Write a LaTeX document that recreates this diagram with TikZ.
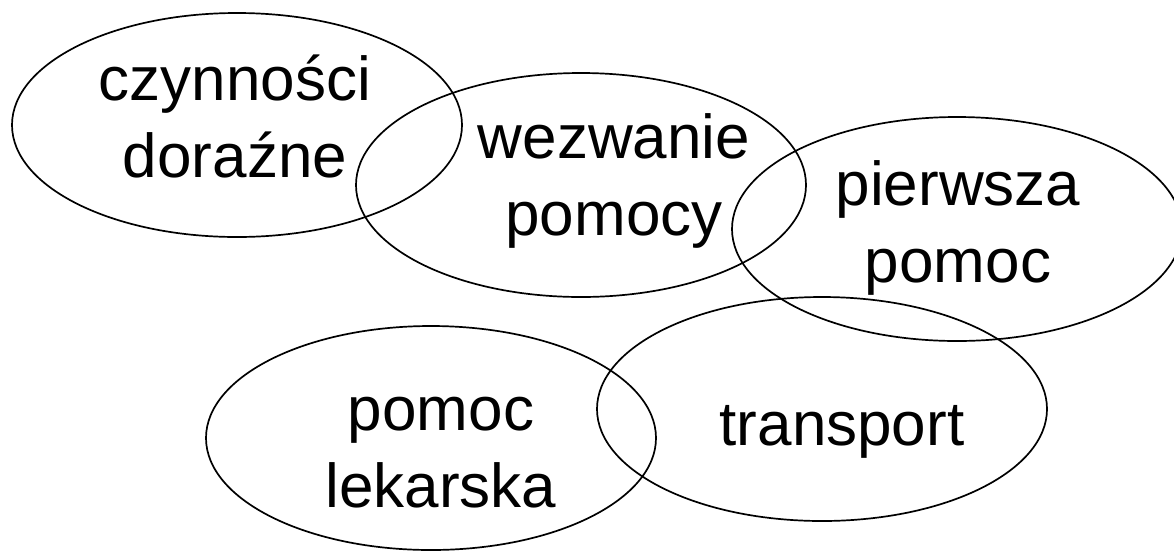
\documentclass[tikz,border=0pt]{standalone}
\usepackage{fontspec}
\setmainfont{Liberation Sans}
\usetikzlibrary{shapes.geometric}
\begin{document}
\begin{tikzpicture}[x=1pt,y=-1pt,
  blob/.style={draw, line width=1.7pt, ellipse, minimum width=450pt, minimum height=224pt, inner sep=0pt},
  lbl/.style={align=center, inner sep=0pt, anchor=base, font=\fontsize{62}{77}\selectfont}]
\useasboundingbox (0,0) rectangle (1174,550);
\node[blob] (e1) at (237,125) {};
\node[blob] (e2) at (581,185) {};
\node[blob] (e3) at (957,229) {};
\node[blob] (e4) at (431,438) {};
\node[blob] (e5) at (822,409) {};
\node[lbl] (t1) at (235,177) {czynności\\doraźne};
\node[lbl] (t2) at (614,235) {wezwanie\\pomocy};
\node[lbl] (t3) at (958,282) {pierwsza\\pomoc};
\node[lbl] (t4) at (441,507) {pomoc\\lekarska};
\node[lbl] (t5) at (842,445) {transport};
\end{tikzpicture}
\end{document}
